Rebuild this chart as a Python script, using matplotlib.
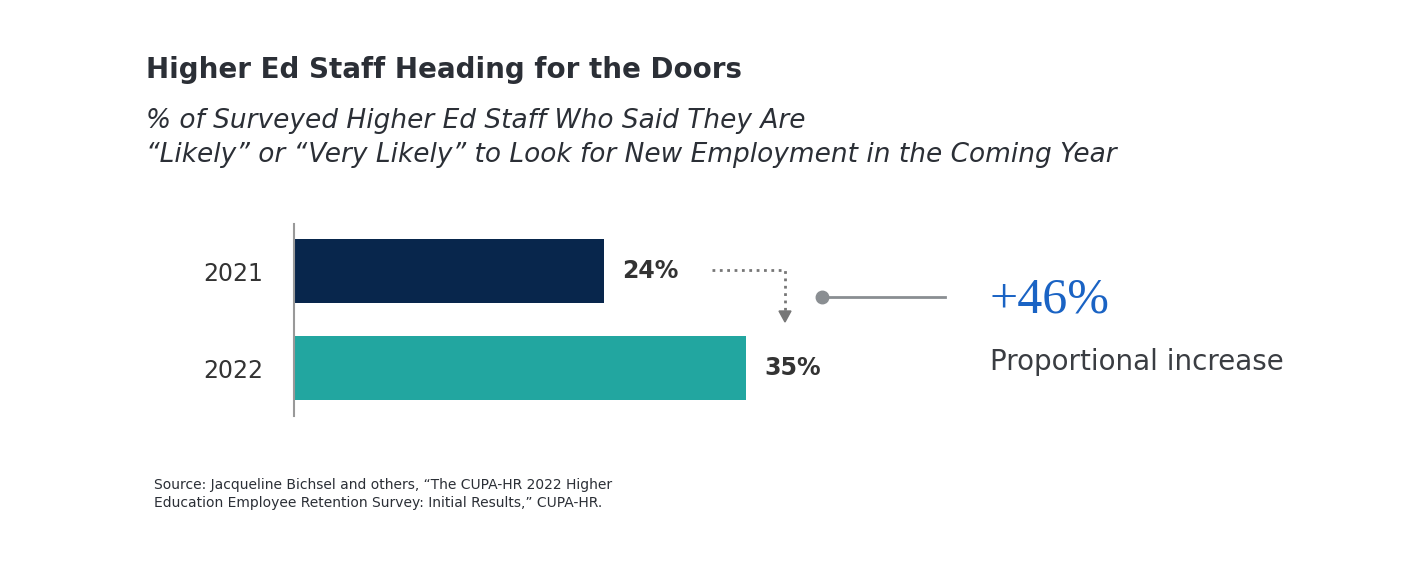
import matplotlib
matplotlib.use('Agg')
import matplotlib.pyplot as plt

years = ['2021', '2022']
values = [24, 35]
bar_colors = ['#08264c', '#22a6a0']
increase_label = '+46%'

W, H = 1410, 572
fig = plt.figure(figsize=(W / 100, H / 100), dpi=100)

def fx(x):
    return x / W

def fy(y):
    return 1 - y / H

ax = fig.add_axes([fx(294), fy(416), fx(1100 - 294), (416 - 224) / H])
ax.barh(range(len(years)), values, height=0.66, color=bar_colors)
ax.set_xlim(0, 806 / 12.92)
ax.set_ylim(1.495, -0.485)
ax.set_yticks(range(len(years)), years)
ax.tick_params(axis='y', length=0, pad=22, labelsize=17, labelcolor='#333333')
ax.set_xticks([])
for s in ['top', 'right', 'bottom']:
    ax.spines[s].set_visible(False)
ax.spines['left'].set_color('#999999')
ax.spines['left'].set_linewidth(1.5)
for i, v in enumerate(values):
    ax.text(v + 1.4, i, f'{v}%', va='center', ha='left', fontsize=17,
            fontweight='bold', color='#333333')

ink = '#2b2f36'
fig.text(fx(146), fy(70), 'Higher Ed Staff Heading for the Doors', fontsize=20,
         fontweight='bold', color=ink, va='center')
fig.text(fx(146), fy(121), '% of Surveyed Higher Ed Staff Who Said They Are',
         fontsize=19, style='italic', color=ink, va='center')
fig.text(fx(146), fy(155), '\u201cLikely\u201d or \u201cVery Likely\u201d to Look for New Employment in the Coming Year',
         fontsize=19, style='italic', color=ink, va='center')
fig.text(fx(154), fy(494), 'Source: Jacqueline Bichsel and others, \u201cThe CUPA-HR 2022 Higher\n'
         'Education Employee Retention Survey: Initial Results,\u201d CUPA-HR.',
         fontsize=10, color=ink, va='center', linespacing=1.3)

# dotted connector with arrow
fig.add_artist(plt.Line2D([fx(712), fx(785), fx(785)], [fy(270), fy(270), fy(312)],
                          transform=fig.transFigure, color='#777777', lw=2, ls=':'))
fig.add_artist(plt.Polygon([[fx(779), fy(311)], [fx(791), fy(311)], [fx(785), fy(322)]],
                           closed=True, transform=fig.transFigure, color='#777777'))
# gray pointer line
fig.add_artist(plt.Line2D([fx(822), fx(945)], [fy(297), fy(297)],
                          transform=fig.transFigure, color='#8a8e92', lw=2))
fig.add_artist(plt.Line2D([fx(822)], [fy(297)], transform=fig.transFigure,
                          marker='o', markersize=9, color='#8a8e92'))

fig.text(fx(990), fy(300), increase_label, fontsize=36, color='#1a63c4',
         family='Liberation Serif', va='center')
fig.text(fx(990), fy(362), 'Proportional increase', fontsize=20, color='#3a3d42', va='center')

fig.savefig('out.png', dpi=100, facecolor='white')
